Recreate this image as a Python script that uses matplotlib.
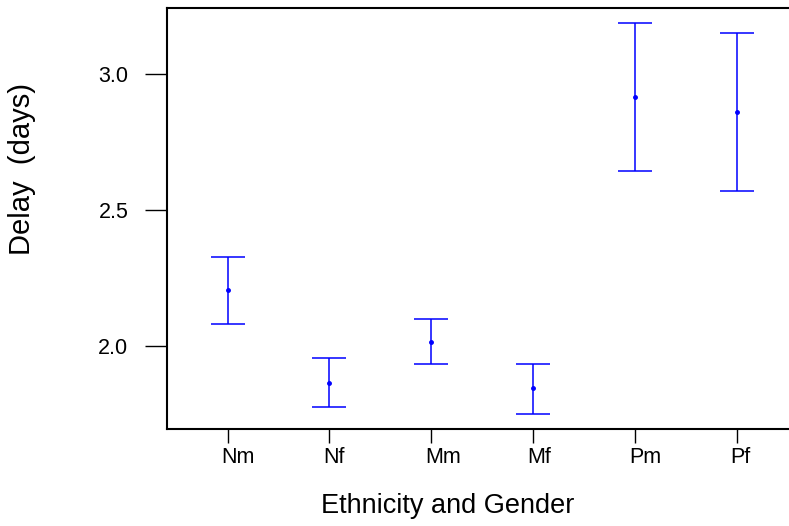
import matplotlib
matplotlib.use("Agg")
import matplotlib.pyplot as plt
import matplotlib.transforms as mtransforms
import numpy as np

plt.rcParams['font.family'] = ['Liberation Sans', 'DejaVu Sans']

# dane
groups = ["Nm", "Nf", "Mm", "Mf", "Pm", "Pf"]
mean_delay = [2.204, 1.862, 2.015, 1.843, 2.915, 2.860]
lower_ci = [2.081, 1.776, 1.934, 1.750, 2.642, 2.570]
upper_ci = [2.326, 1.954, 2.097, 1.934, 3.186, 3.151]
yticks = [2.0, 2.5, 3.0]

fig = plt.figure(figsize=(7.89, 5.26), dpi=100, facecolor='white')
W, H = 789, 526
ax = fig.add_axes([166.7 / W, 1 - 429 / H, 1 - 166.7 / W, (429 - 8) / H])

x = np.arange(len(groups))
mean = np.array(mean_delay)
yerr = [mean - np.array(lower_ci), np.array(upper_ci) - mean]

ax.errorbar(x, mean, yerr=yerr, fmt='o', color='#0000ff', ecolor='#0000ff',
            markersize=2.5, elinewidth=1.1, capsize=12, capthick=1.1)

ax.set_xlim(-0.599, 5.514)
ax.set_ylim(1.6938, 3.2415)

ax.set_yticks(yticks)
ax.set_yticklabels([f"{v:.1f}" for v in yticks], fontsize=15.5)
ax.set_xticks(x)
ax.set_xticklabels(groups, fontsize=15.5, ha='left')

ax.tick_params(axis='y', direction='out', length=15.6, width=1.0, pad=12)
ax.tick_params(axis='x', direction='out', length=10, width=1.0, pad=3)

# etykiety lekko przesunięte w lewo względem kresek (jak w oryginale)
offset = mtransforms.ScaledTranslation(-6 / 100, 0, fig.dpi_scale_trans)
for t in ax.xaxis.get_major_ticks():
    t.label1.set_transform(t.label1.get_transform() + offset)

for s in ['left', 'top', 'bottom']:
    ax.spines[s].set_linewidth(1.5)
ax.spines['right'].set_visible(False)

fig.text(447.5 / W, 1 - 506 / H, "Ethnicity and Gender", fontsize=19.5,
         ha='center', va='center')
fig.text(22 / W, 1 - 169 / H, "Delay  (days)", fontsize=21, rotation=90,
         ha='center', va='center')

fig.savefig("out.png", dpi=100)
